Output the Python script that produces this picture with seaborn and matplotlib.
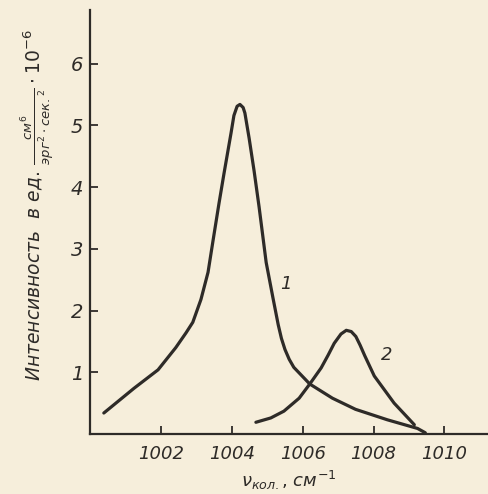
import numpy as np
import pandas as pd
import seaborn as sns
import matplotlib
matplotlib.use("Agg")
import matplotlib.pyplot as plt

# --- data ---
x1 = [1000.39, 1001.24, 1001.92, 1002.42, 1002.71, 1002.90, 1003.13, 1003.33, 1003.47,
      1003.64, 1003.78, 1003.98, 1004.06, 1004.15, 1004.23, 1004.32, 1004.37, 1004.49,
      1004.63, 1004.77, 1004.87, 1004.97, 1005.16, 1005.31, 1005.40, 1005.50, 1005.62,
      1005.75, 1006.20, 1006.84, 1007.49, 1008.39, 1009.24, 1009.46]
y1 = [0.34, 0.74, 1.04, 1.40, 1.64, 1.81, 2.18, 2.62, 3.13,
      3.74, 4.22, 4.88, 5.16, 5.31, 5.34, 5.29, 5.20, 4.79,
      4.26, 3.68, 3.23, 2.78, 2.21, 1.77, 1.55, 1.37, 1.21,
      1.08, 0.81, 0.58, 0.40, 0.23, 0.09, 0.02]
x2 = [1004.68, 1005.10, 1005.47, 1005.90, 1006.20, 1006.52, 1006.72, 1006.89, 1007.08,
      1007.23, 1007.37, 1007.50, 1007.62, 1007.75, 1008.02, 1008.58, 1009.15]
y2 = [0.19, 0.26, 0.37, 0.58, 0.81, 1.07, 1.28, 1.47, 1.62,
      1.68, 1.66, 1.58, 1.44, 1.27, 0.94, 0.50, 0.15]
curve_labels = ["1", "2"]
xticks = [1002, 1004, 1006, 1008, 1010]
yticks = [1, 2, 3, 4, 5, 6]

df = pd.DataFrame({
    "x": x1 + x2,
    "y": y1 + y2,
    "curve": [curve_labels[0]] * len(x1) + [curve_labels[1]] * len(x2),
})

sns.set_theme(style="ticks")
plt.rcParams["font.family"] = ["DejaVu Sans"]
plt.rcParams["mathtext.fontset"] = "dejavusans"

bg = "#f6eedb"
ink = "#2e2b28"
fig = plt.figure(figsize=(4.88, 4.94), dpi=100, facecolor=bg)
ax = fig.add_axes([90 / 488, 1 - 434 / 494, (487 - 90) / 488, (434 - 10) / 494])
ax.set_facecolor(bg)

sns.lineplot(data=df, x="x", y="y", units="curve", estimator=None, sort=False,
             color=ink, linewidth=2.3, ax=ax, legend=False,
             solid_joinstyle="round", solid_capstyle="round")

ax.set_xlim(1000, 1011.2)
ax.set_ylim(0, 6.87)
ax.set_xticks(xticks)
ax.set_yticks(yticks)
ax.set_xticklabels([str(t) for t in xticks], fontstyle="italic", fontsize=13, color=ink)
ax.set_yticklabels([str(t) for t in yticks], fontstyle="italic", fontsize=14, color=ink)
ax.tick_params(axis="x", direction="in", length=6, width=1.3, colors=ink, pad=8)
ax.tick_params(axis="y", direction="in", length=6, width=1.3, colors=ink, pad=5)
for s in ["top", "right"]:
    ax.spines[s].set_visible(False)
for s in ["left", "bottom"]:
    ax.spines[s].set_color(ink)
    ax.spines[s].set_linewidth(1.6)

ax.set_xlabel(r"$\nu_{\mathit{кол.}}$, $\mathit{см}^{-1}$", fontsize=13, color=ink, labelpad=4)
ax.set_ylabel(r"$\mathit{Интенсивность}$  $\mathit{в\ ед.}\,\frac{\mathit{см}^{6}}{\mathit{эрг}^{2}\cdot\mathit{сек.}^{2}}\cdot 10^{-6}$",
              fontsize=13.5, color=ink)
ax.yaxis.set_label_coords(-0.085, 0.54)

ax.text(1005.35, 2.35, curve_labels[0], fontstyle="italic", fontsize=13, color=ink)
ax.text(1008.2, 1.2, curve_labels[1], fontstyle="italic", fontsize=13, color=ink)

fig.savefig("out.png", dpi=100, facecolor=bg)
